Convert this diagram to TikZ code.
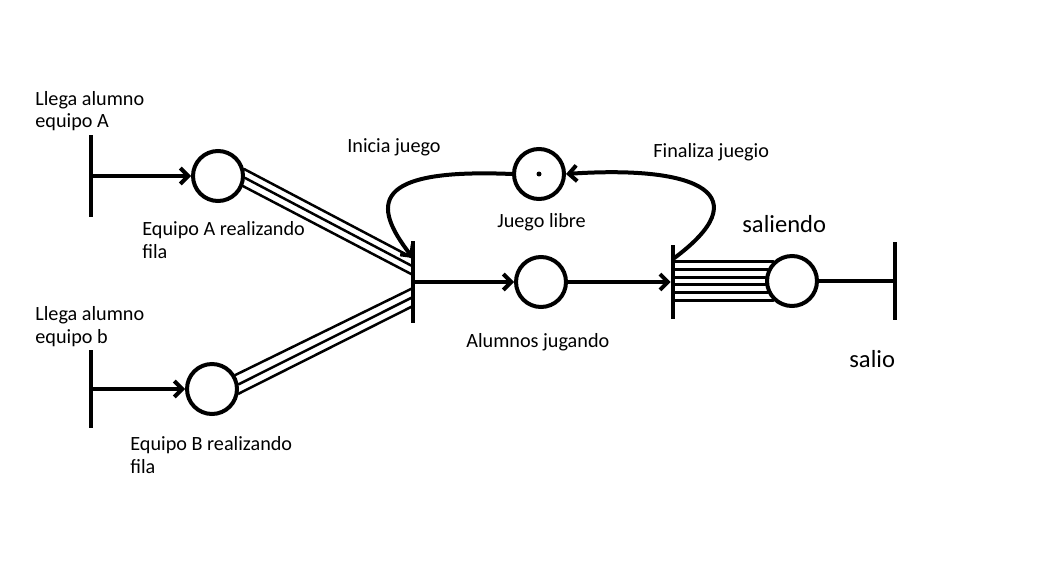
\documentclass[tikz,border=0pt]{standalone}
\usepackage{fontspec}
\setmainfont{Carlito}
\usetikzlibrary{arrows.meta, positioning, calc}
\tikzset{
  petri/.style={
	x=0.02cm, y=-0.02cm, % un pixel de la imagen original
	>={Straight Barb[length=4.5pt,width=9pt]}, % puntas abiertas
	line cap=round,
  },
  lugar/.style={circle, draw, line width=0.08cm, minimum size=1cm, inner sep=0pt}, % lugares de la red
  transicion/.style={rectangle, fill=black, minimum width=0.08cm, inner sep=0pt}, % barras
  arco/.style={line width=0.08cm},
  hilo/.style={line width=0.05cm}, % arcos con peso
  haz/.style={line width=0.065cm},
  etiqueta/.style={font=\fontsize{11.5}{13}\selectfont, align=left, anchor=base west, inner sep=0pt}, % base = ultima linea
  grande/.style={font=\fontsize{14}{16}\selectfont, anchor=base west, inner sep=0pt},
}
\begin{document}
\begin{tikzpicture}[petri]
		\useasboundingbox (0,0) rectangle (1050,584);

		% Lugares y transiciones
		\node [transicion, minimum height=1.64cm] (tA) at (91,176) {};
		\node [lugar] (pA) at (218,176) {};
		\node [transicion, minimum height=1.56cm] (tB) at (91,389) {};
		\node [lugar] (pB) at (212,389) {};
		\node [transicion, minimum height=1.64cm] (tI) at (413,282) {};
		\node [lugar] (pJ) at (539,174) {};
		\node [lugar] (pAJ) at (541,282) {};
		\node [transicion, minimum height=1.5cm] (tF) at (673,282) {};
		\node [lugar] (pS) at (792,281) {};
		\node [transicion, minimum height=1.58cm] (tS) at (895,281) {};
		\fill (pJ.center) circle (0.05cm);

		% Etiquetas
		\node [etiqueta] (lTA) at (35,128) {Llega alumno\\equipo A};
		\node [etiqueta] (lPA) at (142,258) {Equipo A realizando\\fila};
		\node [etiqueta] (lTB) at (35,343) {Llega alumno\\equipo b};
		\node [etiqueta] (lPB) at (130,473) {Equipo B realizando\\fila};
		\node [etiqueta] (lTI) at (347,153) {Inicia juego};
		\node [etiqueta] (lPJ) at (497,227) {Juego libre};
		\node [etiqueta] (lTF) at (653,157) {Finaliza juegio};
		\node [etiqueta] (lPAJ) at (466,347) {Alumnos jugando};
		\node [grande] (lPS) at (742,232) {saliendo};
		\node [grande] (lTS) at (849,367) {salio};

		% Arcos simples
		\draw [arco, ->] (tA) -- (pA);
		\draw [arco, ->] (tB) -- (pB);
		\draw [arco, ->] (tI) -- (pAJ);
		\draw [arco, ->] (pAJ) -- (tF);
		\draw [arco] (pS) -- (tS);
		\draw [arco, ->] (pJ.west) .. controls (370,168) and (372,205) .. ([yshift=0.48cm]tI.center);
		\draw [arco, ->] ([yshift=0.46cm]tF.center) .. controls (760,195) and (700,165) .. (pJ.east);

		% Arcos con peso
		\foreach \a/\e in {15/0.48, -4/0.31, -22/0.14}
			\draw [hilo] (pA.\a) -- ([yshift=\e cm]tI.center);
		\foreach \a/\e in {31/-0.12, 10/-0.30, -10/-0.48}
			\draw [hilo] (pB.\a) -- ([yshift=\e cm]tI.center);
		\foreach \a in {134, 154, 172, 188, 206, 226}
			\draw [haz] (pS.\a -| tF.center) -- (pS.\a);

	\end{tikzpicture}
\end{document}
